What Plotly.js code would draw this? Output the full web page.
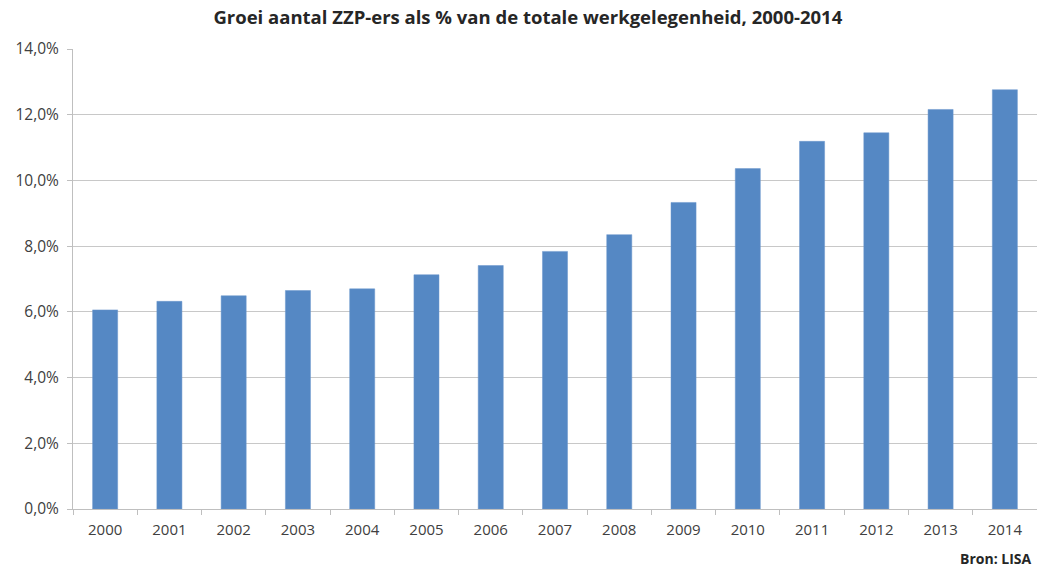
<!DOCTYPE html>
<html>
<head>
<meta charset="utf-8">
<script src="https://cdn.plot.ly/plotly-3.0.1.min.js"></script>
<style>html,body{margin:0;padding:0;background:#fff;}#chart{width:1037px;height:570px;}</style>
</head>
<body>
<div id="chart"></div>
<script>
const years = ["2000","2001","2002","2003","2004","2005","2006","2007","2008","2009","2010","2011","2012","2013","2014"];
const shares = [6.06, 6.32, 6.49, 6.65, 6.70, 7.13, 7.41, 7.84, 8.35, 9.33, 10.36, 11.19, 11.45, 12.16, 12.76];
const yTicks = [0, 2, 4, 6, 8, 10, 12, 14];
const yTickLabels = ["0,0%", "2,0%", "4,0%", "6,0%", "8,0%", "10,0%", "12,0%", "14,0%"];
const titleText = "Groei aantal ZZP-ers als % van de totale werkgelegenheid, 2000-2014";
const sourceText = "Bron: LISA";

const trace = {
  type: "bar",
  x: years,
  y: shares,
  marker: {color: "#5588c4", line: {color: "#6a97cc", width: 0.5}},
  hoverinfo: "x+y"
};

const layout = {
  width: 1037,
  height: 570,
  margin: {l: 73, r: 0, t: 49, b: 61},
  paper_bgcolor: "#ffffff",
  plot_bgcolor: "#ffffff",
  separators: ",.",
  font: {family: "Open Sans, sans-serif", size: 15, color: "#404040"},
  title: {
    text: "<b>" + titleText + "</b>",
    font: {family: "Open Sans, sans-serif", size: 18.5, color: "#262626"},
    x: 0.509, xanchor: "center", xref: "container",
    y: 0.97, yanchor: "middle", yref: "container"
  },
  bargap: 0.61,
  showlegend: false,
  xaxis: {
    type: "category",
    showline: true, linecolor: "#bfbfbf", linewidth: 1,
    ticks: "outside", tickson: "boundaries", ticklen: 5, tickcolor: "#bfbfbf",
    ticklabelstandoff: 7,
    showgrid: false, zeroline: false,
    tickfont: {size: 15, color: "#404040"}
  },
  yaxis: {
    range: [0, 14],
    tickmode: "array",
    tickvals: yTicks,
    ticktext: yTickLabels,
    showline: true, linecolor: "#bfbfbf", linewidth: 1,
    ticks: "outside", ticklen: 5, tickcolor: "#bfbfbf",
    ticklabelstandoff: 5,
    showgrid: true, gridcolor: "#c8c8c8", gridwidth: 1,
    zeroline: false,
    tickfont: {size: 15.5, color: "#404040"}
  },
  annotations: [{
    text: "<b>" + sourceText + "</b>",
    xref: "paper", yref: "paper",
    x: 0.997, y: -0.082, xanchor: "right", yanchor: "top",
    showarrow: false,
    font: {family: "Open Sans, sans-serif", size: 14, color: "#262626"}
  }]
};

Plotly.newPlot("chart", [trace], layout, {displayModeBar: false, staticPlot: true});
</script>
</body>
</html>
